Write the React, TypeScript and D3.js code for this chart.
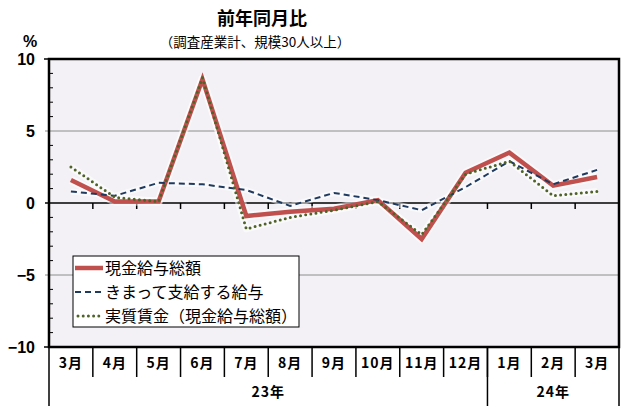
import * as React from 'react';
import * as d3 from 'd3';

const months = ['3月', '4月', '5月', '6月', '7月', '8月', '9月', '10月', '11月', '12月', '1月', '2月', '3月'];
const years = [
	{ label: '23年', count: 10 },
	{ label: '24年', count: 3 },
];

const totalPay = [1.6, 0.1, 0.1, 8.6, -0.9, -0.6, -0.4, 0.2, -2.5, 2.1, 3.5, 1.2, 1.8];
const regularPay = [0.8, 0.5, 1.4, 1.3, 0.9, -0.2, 0.7, 0.2, -0.5, 1.1, 2.9, 1.3, 2.3];
const realWage = [2.5, 0.4, 0.1, 8.7, -1.8, -1.0, -0.5, 0.1, -2.2, 2.0, 2.9, 0.5, 0.8];

const yTicks = [10, 5, 0, -5, -10];

const series = [
	{ name: '現金給与総額', values: totalPay, color: '#c0504d', width: 4.5, dash: null, cap: 'butt' },
	{ name: 'きまって支給する給与', values: regularPay, color: '#1f3a5f', width: 2, dash: '6 4', cap: 'butt' },
	{ name: '実質賃金(現金給与総額)', values: realWage, color: '#4f6228', width: 3, dash: '0 5.2', cap: 'round' },
];

const jp = '"Noto Sans CJK JP", "Noto Sans", sans-serif';

export default function App() {
	const W = 630;
	const H = 410;
	const left = 49;
	const right = 619;
	const top = 59;
	const bottom = 347;

	const idx = months.map((_, i) => i);
	const x = d3.scaleBand<number>().domain(idx).range([left, right]);
	const y = d3.scaleLinear().domain([-10, 10]).range([bottom, top]);
	const cx = (i: number) => (x(i) as number) + x.bandwidth() / 2;

	const line = d3
		.line<number>()
		.x((_, i) => cx(i))
		.y(d => y(d));

	const minor = d3.range(-10, 11, 1).filter(v => v % 5 !== 0);

	let acc = 0;
	const yearSpans = years.map(yr => {
		const start = acc;
		acc += yr.count;
		return { ...yr, x0: x(start) as number, x1: start + yr.count >= months.length ? right : (x(start + yr.count) as number) };
	});

	return (
		<svg width={W} height={H} style={{ position: 'absolute', left: 0, top: 0, background: '#fff' }}>
			<text x={262} y={25} textAnchor='middle' fontFamily={jp} fontSize={18} fontWeight='bold'>
				前年同月比
			</text>
			<text x={255} y={47} textAnchor='middle' fontFamily={jp} fontSize={13.5}>
				（調査産業計、規模30人以上）
			</text>
			<text x={30} y={47} textAnchor='middle' fontFamily='"Liberation Sans", Arial' fontSize={16} fontWeight='bold'>
				%
			</text>

			<rect x={left} y={top} width={right - left} height={bottom - top} fill='#f3f1f5' />

			{[5, -5].map(v => (
				<line key={v} x1={left - 4} x2={right} y1={y(v)} y2={y(v)} stroke='#8c8c8c' strokeWidth={1} />
			))}
			{minor.map(v => (
				<line key={v} x1={left} x2={left + 4} y1={y(v)} y2={y(v)} stroke='#000' />
			))}
			<line x1={left - 4} x2={right} y1={y(0)} y2={y(0)} stroke='#000' strokeWidth={1.5} />
			{idx.slice(1).map(i => (
				<line key={i} x1={x(i)} x2={x(i)} y1={y(0)} y2={y(0) + 6} stroke='#000' strokeWidth={1.5} />
			))}
			{[10, -10].map(v => (
				<line key={v} x1={left - 5} x2={left} y1={y(v)} y2={y(v)} stroke='#000' strokeWidth={1.5} />
			))}

			{yTicks.map(v => (
				<text
					key={v}
					x={35}
					y={y(v)}
					dy='0.36em'
					textAnchor='end'
					fontFamily='"Liberation Sans", Arial'
					fontSize={16}
					fontWeight='bold'
				>
					{v < 0 ? `−${Math.abs(v)}` : v}
				</text>
			))}

			{series.map(s => (
				<path
					key={s.name + 'halo'}
					d={line(s.values) || ''}
					fill='none'
					stroke='#ffffff'
					strokeOpacity={0.5}
					strokeWidth={s.width + 4}
					strokeLinejoin='round'
				/>
			))}
			{series.map(s => (
				<path
					key={s.name}
					d={line(s.values) || ''}
					fill='none'
					stroke={s.color}
					strokeWidth={s.width}
					strokeDasharray={s.dash || undefined}
					strokeLinecap={s.cap as any}
					strokeLinejoin='miter'
				/>
			))}

			<rect x={left} y={top} width={right - left} height={bottom - top} fill='none' stroke='#000' strokeWidth={2.5} />

			<g>
				<rect x={73} y={256} width={226} height={71} fill='#fff' stroke='#000' strokeWidth={1} />
				{series.map((s, i) => {
					const ly = 268 + i * 24;
					return (
						<g key={s.name}>
							<line
								x1={s.cap === 'round' ? 78 : 75}
								x2={103}
								y1={ly}
								y2={ly}
								stroke={s.color}
								strokeWidth={s.width}
								strokeDasharray={s.dash || undefined}
								strokeLinecap={s.cap as any}
							/>
							<text x={105} y={ly} dy='0.36em' fontFamily={jp} fontSize={16}>
								{s.name.replace('(', '（').replace(')', '）')}
							</text>
						</g>
					);
				})}
			</g>

			{months.map((m, i) => (
				<text
					key={i}
					x={cx(i)}
					y={363}
					dy='0.36em'
					textAnchor='middle'
					fontFamily={jp}
					fontSize={14}
					fontWeight='bold'
					letterSpacing={1}
				>
					{m}
				</text>
			))}
			{idx.slice(1).map(i => (
				<line key={i} x1={x(i)} x2={x(i)} y1={bottom} y2={377} stroke='#000' strokeWidth={1.5} />
			))}
			{[left, ...yearSpans.map(s => s.x1)].map((xv, i) => (
				<line key={i} x1={xv} x2={xv} y1={bottom} y2={406} stroke='#000' strokeWidth={1.5} />
			))}
			{yearSpans.map(s => (
				<text
					key={s.label}
					x={(s.x0 + s.x1) / 2}
					y={392}
					dy='0.36em'
					textAnchor='middle'
					fontFamily={jp}
					fontSize={14}
					fontWeight='bold'
					letterSpacing={1}
				>
					{s.label}
				</text>
			))}
		</svg>
	);
}
